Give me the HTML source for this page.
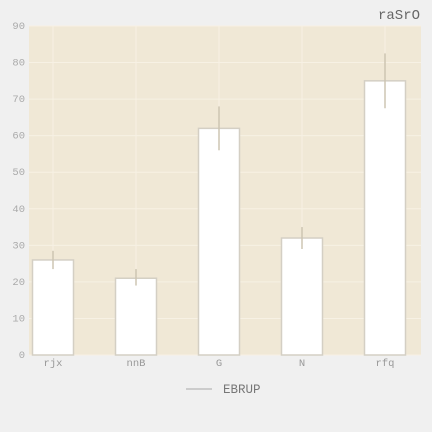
<!DOCTYPE html>
<html><head><meta charset="utf-8"><style>
body{margin:0;background:#f0f0f0;}
svg{display:block;font-family:"Liberation Mono",monospace;}
</style></head><body>
<svg id="c" width="432" height="432">
<rect width="432" height="432" fill="#f0f0f0"/>
<text x="420" y="19" text-anchor="end" font-size="14" fill="#666">raSrO</text>
<rect x="29" y="26" width="392" height="329" fill="#f0e8d6"/>
<g id="grid"></g><g id="bars"></g><g id="axes"></g>
<g>
<line x1="186" y1="389" x2="212" y2="389" stroke="#ccc" stroke-width="2"/>
<text x="223" y="393" font-size="12.5" fill="#777">EBRUP</text>
</g>
</svg>
<script>
const categories=["rjx","nnB","G","N","rfq"];
const values=[26,21,62,32,75];
const errLow=[23.5,19,56,29,67.5];
const errHigh=[28.5,23.5,68,35,82.5];
const yTicks=[0,10,20,30,40,50,60,70,80,90];
const NS="http://www.w3.org/2000/svg";
const L=29,R=421,T=26,B=355,yMax=90;
const y=v=>B-(v/yMax)*(B-T);
const step=83,off=24;
const x=i=>L+off+step*i;
function mk(t,a,p){const e=document.createElementNS(NS,t);for(const k in a)e.setAttribute(k,a[k]);p.appendChild(e);return e;}
const g=document.getElementById('grid'),bg=document.getElementById('bars'),ax=document.getElementById('axes');
yTicks.forEach(v=>{
 const ln=mk('line',{x1:L,x2:R,y1:y(v),y2:y(v),stroke:'#f7f1e4','stroke-width':1},g);
 
 
 const t=mk('text',{x:L-4,y:y(v)+3,'text-anchor':'end','font-size':10.5,fill:'#aaa'},ax);
 t.textContent=v;
 
 
});
categories.forEach((c,i)=>{
 const vl=mk('line',{x1:x(i),x2:x(i),y1:T,y2:B,stroke:'#f7f1e4','stroke-width':1},g);
 
 
 const bw=41;
 const r=mk('rect',{x:x(i)-bw/2,y:y(values[i]),width:bw,height:B-y(values[i]),fill:'#fff',stroke:'#d4cfc4','stroke-width':1.5},bg);
 
 
 const e=mk('line',{x1:x(i),x2:x(i),y1:y(errLow[i]),y2:y(errHigh[i]),stroke:'#cdc5b2','stroke-width':1.5},bg);
 
 
 const t=mk('text',{x:x(i),y:B+11,'text-anchor':'middle','font-size':10.5,fill:'#999'},ax);
 t.textContent=c;
 
 
});
</script>
</body></html>
